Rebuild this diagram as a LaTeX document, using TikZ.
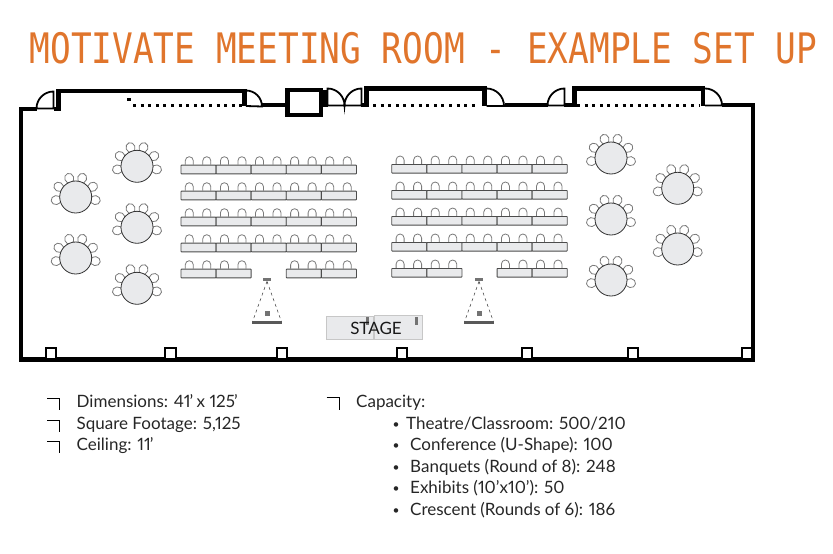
\documentclass[tikz,border=0pt]{standalone}
\usepackage{fontspec}
\setmainfont[Numbers=Proportional]{Lato}
\newfontfamily\titlefont{DejaVu Sans Mono}
\usepackage{tikz}
\usetikzlibrary{calc}
\usetikzlibrary{positioning}
\definecolor{titleorange}{HTML}{E0752C}
\definecolor{tablegrey}{HTML}{E9EAEC}
\definecolor{seatgrey}{HTML}{7A7A7A}

\begin{document}
\begin{tikzpicture}[x=1pt, y=-1pt,
    wall/.style={draw=black, line width=4.2pt, line join=miter},
    thinwall/.style={draw=black, line width=1.8pt},
    window/.style={draw=black, line width=3.2pt, dash pattern=on 3pt off 4.6pt},
    pillar/.style={draw=black, fill=white, line width=2.4pt, minimum size=10.5pt, inner sep=0pt},
    seat/.style={draw=seatgrey, fill=white, line width=.8pt},
    longtable/.style={draw=black!70, fill=tablegrey, line width=.9pt, minimum width=35.1pt, minimum height=8.7pt, inner sep=0pt, rounded corners=.6pt},
    roundtable/.style={circle, draw=black!80, fill=tablegrey, line width=.8pt, minimum size=32pt, inner sep=0pt},
    stagepart/.style={draw=black!22, fill=tablegrey, line width=.8pt, inner sep=0pt},
    greyblock/.style={fill=black!55, inner sep=0pt},
    info/.style={anchor=base west, font=\fontsize{17}{18}\selectfont, text=black!85, inner sep=0pt},
    tickline/.style={draw=black, line width=.9pt}]
        \useasboundingbox (0,0) rectangle (833,554);

        \node[anchor=center, xscale=.82, font=\titlefont\fontsize{42}{46}\selectfont, text=titleorange, inner sep=0pt] (title) at (423.5,48) {MOTIVATE MEETING ROOM - EXAMPLE SET UP};

        % outer walls
        \draw[wall] (36.5,109) -- (20.7,109) -- (20.7,359.5) -- (752.7,359.5) -- (752.7,105) -- (721.5,105);
        \draw[wall] (505,105) -- (547.5,105);
        \draw[wall] (262,105) -- (286,105);
        \draw[wall] (54,109) -- (58.5,109) -- (58.5,90.7) -- (244.5,90.7) -- (244.5,106);
        \draw[wall] (287.5,90) rectangle (321,115);
        \draw[wall] (321,105) -- (325.5,105) -- (325.5,90);
        \draw[wall] (361,105) -- (366.5,105) -- (366.5,88.5) -- (484.5,88.5) -- (484.5,106);
        \draw[wall] (564,105) -- (574.5,105) -- (574.5,88.5) -- (703,88.5) -- (703,106);

        % doors
        \draw[thinwall] (36.5,108.5) arc (180:270:17) -- (53.5,108.5) -- cycle;
        \draw[thinwall] (246,90.5) arc (270:360:16) -- (246,106);
        \draw[thinwall] (327.5,105.5) -- (327.5,88.5) arc (270:360:17) arc (180:270:17) -- (361.5,105.5) -- cycle;
        \draw[thinwall] (486.5,88.5) arc (270:360:17.5) -- (486.5,106);
        \draw[thinwall] (547.5,105.5) arc (180:270:17) -- (564.5,105.5) -- cycle;
        \draw[thinwall] (705,88.5) arc (270:360:17) -- (705,105.5);

        % windows
        \draw[window] (133,105.3) -- (242,105.3);
        \draw[window] (373,105.5) -- (479,105.5);
        \draw[window] (577,105.5) -- (699,105.5);
        \draw[draw=black, line width=2.4pt] (127,99.5) -- (131,99.5);
        \draw[draw=black, line width=1pt] (129,91) -- (129,93);

        % pillars
        \foreach \x [count=\i] in {51,170.5,282,402,527,633,747}
            \node[pillar] (pillar\i) at (\x,353.5) {};

        % long tables
        \foreach \lx/\ty/\side in {180.5/164.7/l, 391.3/164/r} {
            \foreach \r in {0,1,2,3,4} {
                \foreach \c in {0,1,2,3,4} {
                    \ifnum\r\c=42 \else
                        \draw[seat] ({\lx+35.1*\c+4.8},{\ty+26*\r}) -- ++(0,-4) arc (180:360:4) -- ++(0,4);
                        \draw[seat] ({\lx+35.1*\c+22.3},{\ty+26*\r}) -- ++(0,-4) arc (180:360:4) -- ++(0,4);
                        \node[longtable, anchor=north west] (table\side\r\c) at ({\lx+35.1*\c},{\ty+26*\r}) {};
                    \fi
                }
            }
        }

        % round tables
        \foreach \x/\y [count=\i] in {75.7/197, 75.7/258, 137/166.3, 137/227.3, 137/288.3, 611/158, 611/219, 611/280, 677.7/188.3, 677.7/249} {
            \foreach \a in {71,109,31,149,-9,189}
                \draw[seat, shift={(\x,\y)}, rotate=\a] (19.8,0) ellipse [x radius=5, y radius=4.5];
            \node[roundtable] (round\i) at (\x,\y) {};
        }

        % projectors
        \foreach \x [count=\i] in {267,479} {
            \node[greyblock, minimum width=8pt, minimum height=3pt] (lens\i) at (\x,279.7) {};
            \coordinate (screenl\i) at (\x-14.7,322.3);
            \coordinate (screenr\i) at (\x+14.7,322.3);
            \draw[draw=black!80, line width=.5pt, dashed] (lens\i.south) -- (screenl\i);
            \draw[draw=black!80, line width=.5pt, dashed] (lens\i.south) -- (screenr\i);
            \draw[draw=black!65, line width=2.4pt] (screenl\i) -- (screenr\i);
            \node[greyblock, minimum size=5pt] (beam\i) at (\x+.3,313.3) {};
        }

        % stage
        \node[stagepart, anchor=north west, minimum width=46.7pt, minimum height=23.3pt] (stage1) at (326,316) {};
        \node[stagepart, anchor=north west, minimum width=47.7pt, minimum height=24pt] (stage2) at (374,315) {};
        \node[greyblock, minimum width=3pt, minimum height=8pt] (handle1) at (367.3,320.5) {};
        \node[greyblock, minimum width=3pt, minimum height=8pt] (handle2) at (416,321) {};
        \node[font=\fontsize{17}{18}\selectfont, text=black!90, inner sep=0pt] (stagetext) at (376,328.5) {STAGE};

        % room facts
        \foreach \y/\txt [count=\i] in {407/{Dimensions: 41\kern-1pt’\kern-1pt{} x 125\kern-1pt’}, 429/{Square Footage: 5,125}, 450/{Ceiling: 11\kern-1pt’}} {
            \node[info] (fact\i) at (76.5,\y) {\txt};
            \draw[tickline] (47,\y-9) -- (59.5,\y-9) -- (59.5,\y+3);
        }
        \node[info] (capacity) at (356,407) {Capacity:};
        \draw[tickline] (326.5,397.8) -- (339,397.8) -- (339,410);
        \foreach \y/\x/\txt [count=\i] in {429/406/{Theatre/Classroom: 500/210}, 450.5/410/{Conference (U-Shape): 100}, 472/410/{Banquets (Round of 8): 248}, 493.5/410/{Exhibits (10’x10’): 50}, 515/410/{Crescent (Rounds of 6): 186}} {
            \node[info] (cap\i) at (\x,\y) {\txt};
            \node[info, font=\fontsize{12}{14}\selectfont] (dot\i) at (392.5,\y-1) {•};
        }
    \end{tikzpicture}
\end{document}
